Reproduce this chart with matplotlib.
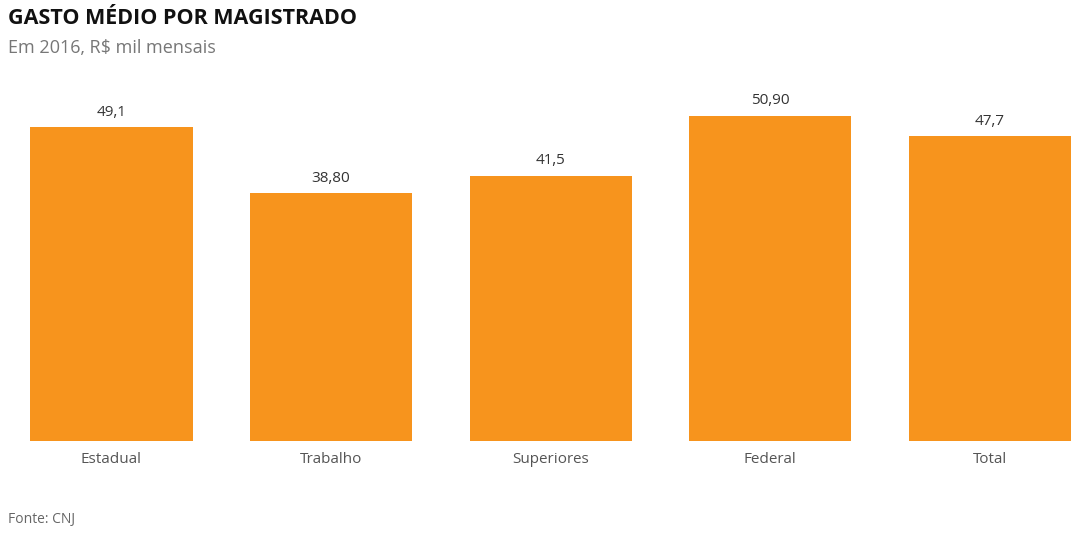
import matplotlib
matplotlib.use("Agg")
import matplotlib.pyplot as plt

categories = ["Estadual", "Trabalho", "Superiores", "Federal", "Total"]
values = [49.1, 38.80, 41.5, 50.90, 47.7]
value_labels = ["49,1", "38,80", "41,5", "50,90", "47,7"]

W, H = 1086, 534
fig = plt.figure(figsize=(W/100, H/100), dpi=100)
ax = fig.add_axes([0, 1-441/H, 1, (441-80)/H])
x = list(range(len(categories)))
ax.bar(x, values, width=0.738, color="#F7941D")
ax.set_xlim(-111.5/219.6, (W-111.5)/219.6)
ax.set_ylim(0, (441-80)/6.385)
for i, (v, l) in enumerate(zip(values, value_labels)):
    ax.text(i, v + 1.2, l, ha="center", va="bottom", fontsize=11, color="#333333", family="Open Sans")
ax.set_xticks(x)
ax.set_xticklabels(categories, fontsize=11, color="#555555", family="Open Sans")
ax.tick_params(axis="x", length=0, pad=8)
ax.set_yticks([])
for s in ax.spines.values():
    s.set_visible(False)

fig.text(8/W, 1-18/H, "GASTO MÉDIO POR MAGISTRADO", fontsize=15.5, fontweight="bold",
         va="center", ha="left", color="#111111", family="Open Sans")
fig.text(8/W, 1-48/H, "Em 2016, R$ mil mensais", fontsize=13, va="center", ha="left",
         color="#777777", family="Open Sans")
fig.text(8/W, 1-519/H, "Fonte: CNJ", fontsize=10, va="center", ha="left",
         color="#666666", family="Open Sans")
fig.savefig("out.png", dpi=100)
